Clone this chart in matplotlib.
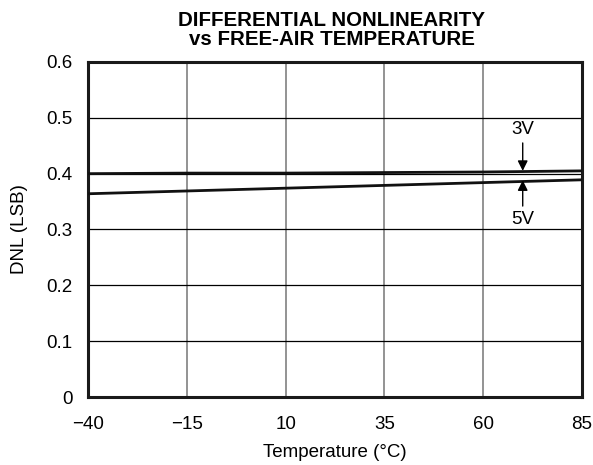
import numpy as np
import matplotlib.pyplot as plt

plt.rcParams['font.family'] = ['Liberation Sans', 'DejaVu Sans']

temp = [-40, -15, 10, 35, 60, 85]
dnl_3v = [0.400, 0.401, 0.401, 0.402, 0.403, 0.405]
dnl_5v = [0.364, 0.369, 0.374, 0.379, 0.384, 0.389]
xticks = [-40, -15, 10, 35, 60, 85]
xtick_labels = ['\u221240', '\u221215', '10', '35', '60', '85']
yticks = [0, 0.1, 0.2, 0.3, 0.4, 0.5, 0.6]

fs = 13.5
fig = plt.figure(figsize=(5.93, 4.65), dpi=100)
ax = fig.add_axes([88 / 593, 1 - 397 / 465, 494 / 593, 335 / 465])

# vertical grid grey, horizontal grid black
for x in xticks[1:-1]:
    ax.axvline(x, color='#808080', lw=1.2, zorder=1)
for y in yticks[1:-1]:
    ax.axhline(y, color='black', lw=0.9, zorder=1)

ax.plot(temp, dnl_3v, color='#111111', lw=2.0, zorder=3)
ax.plot(temp, dnl_5v, color='#111111', lw=2.0, zorder=3)

ax.set_xlim(-40, 85)
ax.set_ylim(0, 0.6)
ax.set_xticks(xticks)
ax.set_xticklabels(xtick_labels)
ax.set_yticks(yticks)
ax.set_yticklabels(['0', '0.1', '0.2', '0.3', '0.4', '0.5', '0.6'])
ax.tick_params(axis='x', length=0, labelsize=fs, pad=14)
ax.tick_params(axis='y', length=0, labelsize=fs, pad=11)
for s in ax.spines.values():
    s.set_linewidth(2.2)
    s.set_color('#1a1a1a')

# 3V / 5V annotations
arrow = dict(arrowstyle='-|>', color='black', lw=1.0, mutation_scale=15,
             shrinkA=0, shrinkB=0)
ax.annotate('', xy=(70, 0.405), xytext=(70, 0.455), arrowprops=arrow)
ax.text(70, 0.48, '3V', ha='center', va='center', fontsize=fs)
ax.annotate('', xy=(70, 0.388), xytext=(70, 0.342), arrowprops=arrow)
ax.text(70, 0.318, '5V', ha='center', va='center', fontsize=fs)

fig.text(335 / 593, 1 - 452 / 465, 'Temperature (\u00b0C)', ha='center', va='center', fontsize=fs)
fig.text(20 / 593, 1 - 229 / 465, 'DNL (LSB)', ha='center', va='center', rotation=90, fontsize=fs)
fig.text(332 / 593, 1 - 30 / 465, 'DIFFERENTIAL NONLINEARITY\nvs FREE-AIR TEMPERATURE',
         ha='center', va='center', fontsize=14.8, fontweight='bold', linespacing=1.05)

fig.savefig('out.png', dpi=100)
